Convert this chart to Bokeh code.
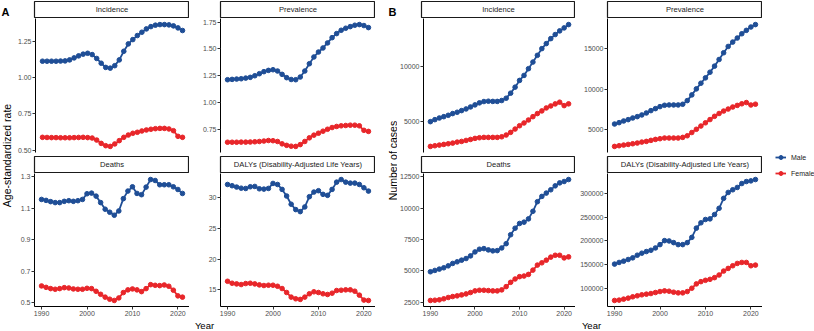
import math
from bokeh.plotting import figure
from bokeh.layouts import row, column
from bokeh.models import Range1d, FixedTicker, Legend, LegendItem
from bokeh.core.properties import value
from bokeh.embed import file_html
from bokeh.resources import INLINE

# ---------------- data ----------------
years = list(range(1990, 2022))
x_ticks = [1990, 2000, 2010, 2020]
x_tick_labels = ["1990", "2000", "2010", "2020"]
series_names = ["Male", "Female"]
facet_titles = ["Incidence", "Prevalence", "Deaths", "DALYs (Disability-Adjusted Life Years)"]

# Panel A: age-standardized rate
a_inc_male = [1.116, 1.116, 1.116, 1.116, 1.117, 1.118, 1.125, 1.139, 1.153, 1.165, 1.171, 1.162, 1.135, 1.102, 1.073, 1.068,
              1.085, 1.125, 1.185, 1.236, 1.266, 1.294, 1.317, 1.340, 1.356, 1.366, 1.370, 1.370, 1.368, 1.361, 1.347, 1.329]
a_inc_female = [0.588, 0.587, 0.586, 0.586, 0.585, 0.585, 0.585, 0.586, 0.587, 0.588, 0.586, 0.583, 0.569, 0.546, 0.530, 0.525,
                0.542, 0.565, 0.588, 0.604, 0.616, 0.623, 0.632, 0.639, 0.644, 0.648, 0.650, 0.650, 0.646, 0.634, 0.595, 0.588]
a_prev_male = [1.212, 1.215, 1.218, 1.221, 1.227, 1.234, 1.249, 1.268, 1.287, 1.299, 1.305, 1.293, 1.262, 1.231, 1.214, 1.212,
               1.237, 1.293, 1.361, 1.424, 1.470, 1.508, 1.555, 1.604, 1.642, 1.673, 1.692, 1.707, 1.720, 1.726, 1.717, 1.698]
a_prev_female = [0.629, 0.629, 0.629, 0.630, 0.630, 0.631, 0.633, 0.636, 0.640, 0.645, 0.643, 0.636, 0.614, 0.600, 0.592, 0.590,
                 0.607, 0.636, 0.670, 0.695, 0.713, 0.732, 0.750, 0.766, 0.776, 0.782, 0.785, 0.788, 0.788, 0.782, 0.740, 0.730]
a_death_male = [1.155, 1.149, 1.141, 1.135, 1.135, 1.143, 1.147, 1.143, 1.147, 1.155, 1.191, 1.195, 1.176, 1.135, 1.093, 1.074,
                1.055, 1.082, 1.160, 1.208, 1.235, 1.193, 1.185, 1.233, 1.281, 1.275, 1.248, 1.248, 1.248, 1.235, 1.218, 1.193]
a_death_female = [0.607, 0.598, 0.590, 0.586, 0.590, 0.596, 0.594, 0.588, 0.586, 0.586, 0.592, 0.590, 0.573, 0.554, 0.536, 0.523,
                  0.515, 0.531, 0.565, 0.582, 0.588, 0.582, 0.571, 0.590, 0.615, 0.611, 0.609, 0.613, 0.605, 0.580, 0.544, 0.536]
a_daly_male = [32.10, 31.90, 31.68, 31.50, 31.45, 31.73, 31.78, 31.40, 31.35, 31.46, 32.27, 32.10, 31.30, 30.23, 28.90, 28.03,
               27.70, 28.46, 30.12, 30.87, 31.09, 30.50, 30.34, 31.30, 32.48, 32.90, 32.48, 32.32, 32.32, 32.10, 31.57, 31.03]
a_daly_female = [16.41, 16.09, 15.98, 15.88, 16.04, 16.09, 15.98, 15.82, 15.72, 15.77, 15.77, 15.60, 15.23, 14.59, 13.84, 13.57,
                 13.47, 13.84, 14.38, 14.70, 14.59, 14.38, 14.27, 14.48, 14.91, 14.96, 15.02, 15.02, 14.80, 14.16, 13.36, 13.30]

# Panel B: number of cases
b_inc_male = [4970, 5150, 5300, 5420, 5545, 5700, 5820, 5970, 6120, 6300, 6485, 6670, 6790, 6820, 6800, 6800,
              6880, 7090, 7545, 8090, 8700, 9150, 9760, 10360, 10970, 11575, 12030, 12480, 12850, 13180, 13450, 13750]
b_inc_female = [2730, 2790, 2850, 2910, 2970, 3030, 3120, 3180, 3270, 3360, 3455, 3515, 3545, 3545, 3545, 3545,
                3600, 3760, 4000, 4300, 4600, 4850, 5120, 5420, 5700, 5940, 6210, 6390, 6575, 6730, 6420, 6580]
b_prev_male = [5700, 5870, 6075, 6240, 6445, 6610, 6820, 7065, 7355, 7600, 7850, 8015, 8055, 8055, 8055, 8140,
               8590, 9295, 10040, 10740, 11400, 12100, 12850, 13670, 14500, 15280, 15820, 16320, 16850, 17270, 17680, 17980]
b_prev_female = [2935, 3020, 3100, 3180, 3265, 3350, 3470, 3555, 3680, 3800, 3885, 3970, 3970, 3970, 3970, 4050,
                 4250, 4650, 5050, 5450, 5850, 6250, 6650, 7000, 7300, 7550, 7800, 8000, 8200, 8350, 8050, 8150]
b_death_male = [4940, 5045, 5150, 5255, 5410, 5600, 5730, 5860, 5990, 6200, 6515, 6730, 6780, 6675, 6600, 6620,
                6830, 7170, 7880, 8400, 8775, 8880, 9140, 9745, 10505, 10925, 11190, 11450, 11765, 12000, 12110, 12265]
b_death_female = [2660, 2680, 2710, 2790, 2895, 2970, 3025, 3100, 3180, 3290, 3420, 3470, 3470, 3445, 3420, 3420,
                  3500, 3760, 4100, 4365, 4550, 4600, 4730, 5070, 5470, 5650, 5860, 6100, 6250, 6250, 6040, 6120]
b_daly_male = [150900, 154400, 157100, 160600, 164100, 169700, 173900, 177400, 180100, 185000, 192000, 200400, 199700, 196200, 192000, 192000,
               196200, 207300, 226800, 238000, 245000, 246300, 255400, 268600, 289600, 302100, 307700, 312600, 320900, 325100, 326500, 329300]
b_daly_female = [74200, 74900, 77000, 79100, 81900, 84000, 86100, 87500, 88800, 90900, 93000, 94400, 93700, 91600, 90200, 90200,
                 93000, 100000, 109100, 113900, 116700, 118800, 122300, 127900, 136200, 141800, 147400, 152300, 154400, 154400, 147400, 148800]

# y tick positions and labels per facet
a_inc_ticks = [0.50, 0.75, 1.00, 1.25]
a_inc_tick_labels = ["0.50", "0.75", "1.00", "1.25"]
a_prev_ticks = [0.75, 1.00, 1.25, 1.50, 1.75]
a_prev_tick_labels = ["0.75", "1.00", "1.25", "1.50", "1.75"]
a_death_ticks = [0.5, 0.7, 0.9, 1.1, 1.3]
a_death_tick_labels = ["0.5", "0.7", "0.9", "1.1", "1.3"]
a_daly_ticks = [15, 20, 25, 30]
a_daly_tick_labels = ["15", "20", "25", "30"]
b_inc_ticks = [5000, 10000]
b_inc_tick_labels = ["5000", "10000"]
b_prev_ticks = [5000, 10000, 15000]
b_prev_tick_labels = ["5000", "10000", "15000"]
b_death_ticks = [2500, 5000, 7500, 10000, 12500]
b_death_tick_labels = ["2500", "5000", "7500", "10000", "12500"]
b_daly_ticks = [100000, 150000, 200000, 250000, 300000]
b_daly_tick_labels = ["100000", "150000", "200000", "250000", "300000"]

# ---------------- style ----------------
MALE_COLOR = "#1F4E96"
FEMALE_COLOR = "#E8262A"
FONT = "Liberation Sans"
TICK_FS = "7px"
STRIP_FS = "7.6px"
TITLE_FS = "10.5px"
TOP_FRAME_H = 134
BOTTOM_FRAME_H = 133
YEAR_H = 13
TOTAL_H = 331
LINE_W = 1.8
DOT = 4.6


def base_fig(width, height, x_range, y_range, left=0, right=0, top=0, bottom=0, xloc=None, yloc=None):
    p = figure(width=width, height=height, x_range=x_range, y_range=y_range,
               toolbar_location=None, output_backend="svg",
               x_axis_location=xloc, y_axis_location=yloc, min_border=0,
               min_border_left=left, min_border_right=right,
               min_border_top=top, min_border_bottom=bottom)
    p.grid.visible = False
    p.outline_line_color = None
    p.background_fill_color = "white"
    p.border_fill_color = "white"
    return p


def strip_fig(title, left, fw, right):
    p = base_fig(left + fw + right, 18, Range1d(0, 1), Range1d(0, 1), left, right, 1, 1)
    p.outline_line_color = "#1A1A1A"
    p.outline_line_width = 1.2
    p.text(x=[0.5], y=[0.5], text=[title], text_font=value(FONT), text_font_size=STRIP_FS,
           text_align="center", text_baseline="middle", text_color="#1A1A1A")
    return p


def style_axis(ax):
    ax.axis_line_color = "black"
    ax.axis_line_width = 1
    ax.major_tick_line_color = "#333333"
    ax.major_tick_line_width = 1
    ax.major_tick_out = 3
    ax.major_tick_in = 0
    ax.minor_tick_line_color = None
    ax.major_label_standoff = 1
    ax.major_label_text_font = FONT
    ax.major_label_text_font_size = TICK_FS
    ax.major_label_text_color = "#4D4D4D"


def data_fig(male, female, ticks, tick_labels, left, fw, right, bottom_row):
    vals = male + female
    lo, hi = min(vals), max(vals)
    pad = 0.05 * (hi - lo)
    xpad = 0.05 * (years[-1] - years[0])
    bottom = 12 if bottom_row else 3
    frame_h = BOTTOM_FRAME_H if bottom_row else TOP_FRAME_H
    p = base_fig(left + fw + right, frame_h + bottom,
                 Range1d(years[0] - xpad, years[-1] + xpad), Range1d(lo - pad, hi + pad),
                 left, right, 0, bottom, xloc="below" if bottom_row else None, yloc="left")
    p.yaxis.ticker = FixedTicker(ticks=ticks)
    p.yaxis.major_label_overrides = {t: l for t, l in zip(ticks, tick_labels)}
    for ax in p.yaxis:
        style_axis(ax)
    if bottom_row:
        p.xaxis.ticker = FixedTicker(ticks=x_ticks)
        p.xaxis.major_label_overrides = {t: l for t, l in zip(x_ticks, x_tick_labels)}
        for ax in p.xaxis:
            style_axis(ax)
    for ys, c in ((male, MALE_COLOR), (female, FEMALE_COLOR)):
        p.line(years, ys, line_color=c, line_width=LINE_W)
        p.scatter(years, ys, size=DOT, fill_color=c, line_color=c)
    return p


def panel(datasets, lefts, fws, rights, year_x):
    s1 = strip_fig(facet_titles[0], lefts[0], fws[0], rights[0])
    s2 = strip_fig(facet_titles[1], lefts[1], fws[1], rights[1])
    s3 = strip_fig(facet_titles[2], lefts[0], fws[0], rights[0])
    s4 = strip_fig(facet_titles[3], lefts[1], fws[1], rights[1])
    p1 = data_fig(*datasets[0], lefts[0], fws[0], rights[0], False)
    p2 = data_fig(*datasets[1], lefts[1], fws[1], rights[1], False)
    p3 = data_fig(*datasets[2], lefts[0], fws[0], rights[0], True)
    p4 = data_fig(*datasets[3], lefts[1], fws[1], rights[1], True)
    w = sum(lefts) + sum(fws) + sum(rights)
    yf = base_fig(w, YEAR_H, Range1d(0, w), Range1d(0, YEAR_H))
    yf.text(x=[year_x], y=[YEAR_H / 2], text=["Year"], text_font=value(FONT), text_font_size="9.5px",
            text_align="center", text_baseline="middle", text_color="black")
    return column(row(s1, s2), row(p1, p2), row(s3, s4), row(p3, p4), yf)


def label_fig(width, letter, letter_x, title, title_x, title_y):
    p = base_fig(width, TOTAL_H, Range1d(0, width), Range1d(0, TOTAL_H))
    p.text(x=[letter_x], y=[TOTAL_H - 11.5], text=[letter], text_font=value(FONT), text_font_size="11px",
           text_font_style="bold", text_align="left", text_baseline="alphabetic", text_color="black")
    p.text(x=[title_x], y=[TOTAL_H - title_y], text=[title], text_font=value(FONT), text_font_size=TITLE_FS,
           angle=math.pi / 2, text_align="center", text_baseline="middle", text_color="black")
    return p


panel_a = panel([(a_inc_male, a_inc_female, a_inc_ticks, a_inc_tick_labels),
                 (a_prev_male, a_prev_female, a_prev_ticks, a_prev_tick_labels),
                 (a_death_male, a_death_female, a_death_ticks, a_death_tick_labels),
                 (a_daly_male, a_daly_female, a_daly_ticks, a_daly_tick_labels)],
                [20, 31], [155, 155], [0, 0], 190)
panel_b = panel([(b_inc_male, b_inc_female, b_inc_ticks, b_inc_tick_labels),
                 (b_prev_male, b_prev_female, b_prev_ticks, b_prev_tick_labels),
                 (b_death_male, b_death_female, b_death_ticks, b_death_tick_labels),
                 (b_daly_male, b_daly_female, b_daly_ticks, b_daly_tick_labels)],
                [24, 32], [154, 155], [0, 0], 194)

lab_a = label_fig(14, "A", 1, "Age-standardized rate", 6, 155)
lab_b = label_fig(22, "B", 13, "Number of cases", 17, 160)

# legend: key-only renderers (a single missing value, so nothing is drawn in the frame)
lg = base_fig(52, TOTAL_H, Range1d(0, 1), Range1d(0, 1))
items = []
for name, c in zip(series_names, (MALE_COLOR, FEMALE_COLOR)):
    rl = lg.line(x=[float("nan")], y=[float("nan")], line_color=c, line_width=LINE_W)
    rs = lg.scatter(x=[float("nan")], y=[float("nan")], size=DOT, fill_color=c, line_color=c)
    items.append(LegendItem(label=name, renderers=[rl, rs]))
legend = Legend(items=items, location=(13, 153), padding=0, margin=0, spacing=6,
                glyph_width=11, glyph_height=10, label_height=10, label_standoff=5,
                label_text_font=FONT, label_text_font_size="7px", label_text_color="#1A1A1A",
                border_line_color=None, background_fill_alpha=0)
lg.add_layout(legend)

layout = row(lab_a, panel_a, lab_b, panel_b, lg)

with open("out.html", "w") as f:
    f.write(file_html(layout, INLINE))
